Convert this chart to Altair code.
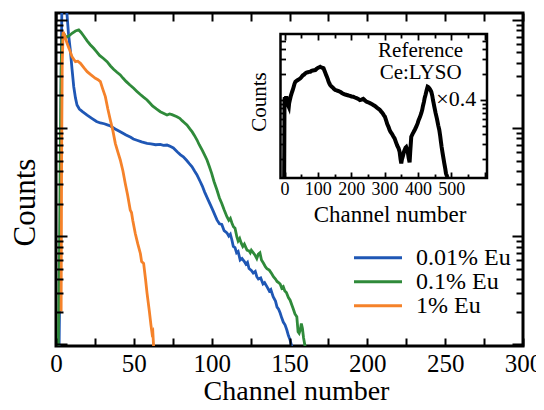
import altair as alt
import pandas as pd

FONT = "Liberation Serif"

# ---------------- data ----------------
series_names = ["0.01% Eu", "0.1% Eu", "1% Eu"]
series_colors = ["#1f57b5", "#2f8a3a", "#f5822a"]

blue_ch = [2.0, 2.6, 3.0, 3.4, 3.8, 4.5, 5.5, 6.3, 7.0, 8.0, 9.2, 10.3, 11.4, 12.5, 13.5, 15, 17, 20, 23, 26,
           28.5, 31, 33, 35, 38, 41.3, 45, 48, 49.7, 52, 55, 58.5, 61, 64, 67, 69, 71.3, 73, 75.4, 78,
           80, 81.8, 84, 85.5, 87.4, 89, 90.5, 92.7, 94, 95.5, 97.8, 99.5, 101, 103.4, 105, 106.5, 108, 109.8, 111, 112,
           113, 113.9, 115, 116, 117, 118.3, 119.5, 121, 122, 123, 124, 125.5, 126.7, 128, 129, 130, 131.5, 133, 134, 135.5,
           137, 138, 139.5, 141, 142, 143, 144, 145, 146, 147.2, 148.3, 149.3, 150.3, 151.5]
blue_v = [9.5, 60, 600, 4000, 14000, 24000, 22000, 15000, 11600, 7500, 5270, 3500, 2410, 1900, 1633, 1500, 1420, 1318, 1230, 1150,
          1113, 1095, 1070, 1044, 980, 924, 860, 820, 791, 770, 745, 721, 712, 700, 705, 690, 696, 680, 653, 600,
          565, 542, 500, 470, 438, 400, 370, 318, 290, 255, 215, 190, 170, 141, 130, 128, 112, 107, 100, 104,
          92, 80, 78, 70, 72, 60, 62, 58, 55, 57, 50, 48, 45.4, 47, 42, 40, 41, 36, 37, 34,
          31, 32, 27.4, 25, 22, 21, 19.4, 17.5, 16, 15, 13.5, 12, 11, 9.5]

green_ch = [1.5, 2.2, 2.8, 3.3, 3.8, 4.3, 5.2, 6.2, 7.1, 8.5, 10.3, 12.5, 14.6, 16, 17.8, 20, 22, 24.2, 26, 28,
            30.5, 32.8, 35, 37, 39, 41.3, 43, 45, 47.5, 49.9, 52, 54, 56, 58.5, 60, 62, 64.5, 67, 69, 71.3,
            73, 74.5, 77.7, 79.5, 81, 82.5, 84.1, 86, 87.5, 89, 90.6, 92, 94, 95.5, 97, 98.5, 100, 101.5, 103.4, 105,
            106.5, 108, 109.8, 111, 112, 113, 114, 115, 116.2, 117, 118, 119, 120, 121, 122.7, 124, 124.8, 125.5, 126.9, 128,
            129, 130, 131, 132, 133.3, 134.5, 135.5, 137, 138.5, 139.7, 141, 142, 143, 144, 145, 146, 147, 148, 149.3, 150.4,
            151.5, 152.5, 153.5, 154.7, 155.5, 156.2, 156.9, 157.6, 158.3, 159, 160]
green_v = [9.5, 60, 700, 3500, 6500, 7300, 7400, 7000, 6950, 7150, 7530, 7900, 8080, 7700, 7100, 6400, 5900, 5470, 5100, 4700,
           4400, 4110, 3750, 3500, 3300, 3097, 2900, 2700, 2500, 2332, 2180, 2050, 1940, 1817, 1720, 1600, 1500, 1416, 1370, 1318,
           1350, 1330, 1273, 1230, 1170, 1120, 1066, 980, 920, 850, 774, 700, 620, 560, 506, 440, 380, 320, 267, 225,
           200, 175, 151, 140, 146, 132, 122, 118, 98, 90, 95, 86, 80, 84, 74, 73, 70, 74, 69.6, 66,
           62, 68, 70, 60, 56, 52, 50, 48.4, 45, 42, 40, 38, 37, 36, 33, 34, 31, 30, 27, 25.5,
           23, 21, 19, 17.9, 13, 12.6, 13.5, 15.5, 14, 11.5, 9.5]

orange_ch = [3.3, 3.6, 4.0, 4.6, 5.5, 7.1, 8.5, 10.3, 11.5, 12.5, 14, 15.7, 18, 20, 22.5, 25.3, 27, 28.5, 30, 31.7,
             33.3, 34.9, 36.5, 38.1, 39.7, 41.3, 43, 44.5, 46, 47.7, 48.5, 49.3, 50.9, 52.5, 54.2, 55, 56.3, 57.5, 58.5, 60,
             61, 61.7, 62.2, 62.7]
orange_v = [20, 500, 4000, 7790, 7200, 6090, 5400, 4573, 4300, 4110, 4150, 3970, 3600, 3320, 3100, 2884, 2800, 2685, 2300, 1950,
            1500, 1186, 950, 721, 600, 506, 400, 307, 240, 174, 165, 140, 106, 85, 69, 58, 55.9, 40, 29.5, 20,
            15, 12.6, 13, 9.5]

inset_ch = [-1, 0, 1, 3, 5, 8, 10, 12.8, 14, 16, 19, 22.9, 25, 28, 30, 32.7, 36, 40, 44, 47.6,
            51, 55, 58, 62.5, 66, 70, 74, 77.4, 81, 85, 89, 92.3, 96, 100, 104, 107, 110, 112, 115, 117,
            119, 122, 125, 127, 130, 132, 135, 137, 141, 145, 148, 152, 156, 160, 164, 167, 172, 177, 182, 187,
            192, 196, 201, 206, 211, 216, 221, 226, 231, 236, 241, 246, 251, 256, 261, 266, 271, 276, 281, 286,
            290, 294, 298, 301, 305, 308, 312, 315, 318, 322, 326, 330, 334, 338, 342, 345, 348, 350, 352, 355,
            358, 360, 363, 365, 368, 370, 372, 375, 377, 380, 384, 387, 391, 395, 399, 402, 406, 410, 413, 415,
            418, 420, 423, 425, 427, 429, 431, 434, 437, 440, 443, 445, 447, 449, 453, 457, 461, 464, 467, 469,
            471, 474, 477, 479, 482, 484, 486, 489]
inset_v = [12.2, 100, 108, 102, 110, 95, 88, 83, 92, 100, 112, 125, 132, 145, 155, 164, 168, 172, 176, 180,
           186, 195, 198, 206, 210, 212, 214, 215, 220, 222, 224, 225, 232, 238, 242, 246, 242, 240, 238, 236,
           225, 210, 196, 188, 175, 165, 155, 150, 144, 140, 135, 131, 130, 128, 126, 125, 121, 118, 116, 114.5,
           113, 112, 110, 109.4, 107, 105, 103, 100, 101, 103, 99, 95.5, 94, 92, 90, 87.3, 85, 82, 79, 76.3,
           73, 70, 66, 63.6, 57, 52, 48, 44.4, 42, 40, 37.5, 35.4, 32, 29, 27, 24.6, 20, 18, 20, 22,
           24.5, 25.8, 27.5, 28, 26, 23.8, 21, 18.5, 25, 37, 40, 42, 45, 48.5, 53, 58, 63, 69.8, 77, 85,
           95, 105, 116, 125, 135, 143.4, 142, 138, 132, 125, 112, 100, 92, 83.4, 70, 60, 50, 44.4, 37, 32,
           28, 23.6, 20, 18, 15.5, 13.7, 13, 12.3]

x_tick_vals = list(range(0, 301, 25))
x_label_vals = [0, 50, 100, 150, 200, 250, 300]
y_major_vals = [10, 100, 1000, 10000]
y_minor_vals = [m * d for d in (10, 100, 1000) for m in range(2, 10)]

inset_x_major = [0, 100, 200, 300, 400, 500, 600]
inset_x_minor = [50, 150, 250, 350, 450, 550]
inset_x_labels = [0, 100, 200, 300, 400, 500]
inset_y_major = [100]
inset_y_minor = [20, 30, 40, 50, 60, 70, 80, 90, 200, 300, 400, 500]
inset_text = ["Reference", "Ce:LYSO", "×0.4"]
inset_text_ch = [408, 408, 455]
inset_text_v = [380, 206, 104]

# ---------------- layout ----------------
W, H = 467, 333
IX0, IX1, IY0, IY1 = 224.5, 431, 21, 165      # inset box inside the plot area
inset_dom_x = [-12, 607]
inset_dom_y = [12.1, 597]

xs = alt.Scale(domain=[0, 300], nice=False, zero=False)
ys = alt.Scale(type="log", domain=[9.6, 11600], nice=False)
ixs = alt.Scale(domain=inset_dom_x, range=[IX0, IX1], nice=False, zero=False)
iys = alt.Scale(type="log", domain=inset_dom_y, range=[IY1, IY0], nice=False)


def tick_axis(orient, offset, values, size, width=2.0):
    # an axis that only draws tick marks; a negative offset moves it to the opposite edge,
    # so its outward ticks point into the plot
    return alt.Axis(orient=orient, offset=offset, values=values, labels=False, domain=False,
                    grid=False, ticks=True, tickSize=size, tickWidth=width, tickColor="#000000",
                    tickOpacity=1, title=None, zindex=5)


# ---------------- main curves ----------------
rows = []
for name, chs, vs in zip(series_names, [blue_ch, green_ch, orange_ch], [blue_v, green_v, orange_v]):
    for c, v in zip(chs, vs):
        rows.append({"series": name, "ch": c, "v": v})
main_df = pd.DataFrame(rows)

lines = alt.Chart(main_df).mark_line(strokeWidth=2.8, clip=True).encode(
    x=alt.X("ch:Q", scale=xs,
            axis=alt.Axis(orient="bottom", values=x_label_vals, ticks=False, domain=False, grid=False,
                          title="Channel number", labelFontSize=25, titleFontSize=28,
                          labelFont=FONT, titleFont=FONT, labelColor="black", titleColor="black",
                          titleFontWeight="normal", labelPadding=5, labelFlush=False,
                          titleX=240, titleY=31)),
    y=alt.Y("v:Q", scale=ys,
            axis=alt.Axis(orient="left", labels=False, ticks=False, domain=False, grid=False,
                          title="Counts", titleFontSize=31, titleFont=FONT, titleColor="black",
                          titleFontWeight="normal", titlePadding=15, titleY=189)),
    color=alt.Color("series:N", scale=alt.Scale(domain=series_names, range=series_colors),
                    legend=alt.Legend(title=None, orient="none", legendX=310, legendY=232.8,
                                      symbolType="M-4.8,0H4.8", symbolSize=100, symbolStrokeWidth=3,
                                      labelFont=FONT, labelFontSize=24, labelColor="black",
                                      rowPadding=0, labelOffset=26, padding=0)),
)

carrier_df = pd.DataFrame({"ch": [0], "v": [100]})
# inward ticks: bottom edge (x) and left edge (decades)
main_ticks_a = alt.Chart(carrier_df).mark_point(opacity=0).encode(
    x=alt.X("ch:Q", scale=xs, axis=tick_axis("top", -H, x_tick_vals, 8)),
    y=alt.Y("v:Q", scale=ys, axis=tick_axis("right", -W, y_major_vals, 11)),
)
# inward ticks: top edge (x) and right edge (decades)
main_ticks_b = alt.Chart(carrier_df).mark_point(opacity=0).encode(
    x=alt.X("ch:Q", scale=xs, axis=tick_axis("bottom", -H, x_tick_vals, 8)),
    y=alt.Y("v:Q", scale=ys, axis=tick_axis("left", -W, y_major_vals, 11)),
)
# minor log ticks, left and right edges
main_ticks_c = alt.Chart(carrier_df).mark_point(opacity=0).encode(
    y=alt.Y("v:Q", scale=ys, axis=tick_axis("right", -W, y_minor_vals, 7)),
)
main_ticks_d = alt.Chart(carrier_df).mark_point(opacity=0).encode(
    y=alt.Y("v:Q", scale=ys, axis=tick_axis("left", -W, y_minor_vals, 7)),
)

# ---------------- inset ----------------
frame_df = pd.DataFrame({"x0": [inset_dom_x[0]], "x1": [inset_dom_x[1]],
                         "y0": [inset_dom_y[0]], "y1": [inset_dom_y[1]]})
frame = alt.Chart(frame_df).mark_rect(fill="white", stroke="black", strokeWidth=2.5).encode(
    x=alt.X("x0:Q", scale=ixs,
            axis=alt.Axis(orient="bottom", offset=-(H - IY1), values=inset_x_labels,
                          ticks=False, domain=False, grid=False, title="Channel number",
                          labelFontSize=18, titleFontSize=23, labelFont=FONT, titleFont=FONT,
                          labelColor="black", titleColor="black", titleFontWeight="normal",
                          labelPadding=2, titlePadding=5, labelFlush=False, titleX=333.5)),
    x2="x1:Q",
    y=alt.Y("y0:Q", scale=iys,
            axis=alt.Axis(orient="left", offset=-IX0, labels=False, ticks=False, domain=False,
                          grid=False, title="Counts", titleFontSize=21, titleFont=FONT,
                          titleColor="black", titleFontWeight="normal", titlePadding=11,
                          titleY=88.5)),
    y2="y1:Q",
)

inset_df = pd.DataFrame({"ch": inset_ch, "v": inset_v})
inset_line = alt.Chart(inset_df).mark_line(color="black", strokeWidth=4, clip=True).encode(
    x=alt.X("ch:Q", scale=ixs, axis=None), y=alt.Y("v:Q", scale=iys, axis=None))

icarrier_df = pd.DataFrame({"ch": [100], "v": [100]})
inset_ticks_a = alt.Chart(icarrier_df).mark_point(opacity=0).encode(
    x=alt.X("ch:Q", scale=ixs, axis=tick_axis("top", -IY1, inset_x_major, 6, 1.8)),
    y=alt.Y("v:Q", scale=iys, axis=tick_axis("right", -(W - IX0), inset_y_major, 7, 1.8)),
)
inset_ticks_b = alt.Chart(icarrier_df).mark_point(opacity=0).encode(
    x=alt.X("ch:Q", scale=ixs, axis=tick_axis("bottom", -(H - IY0), inset_x_major, 6, 1.8)),
    y=alt.Y("v:Q", scale=iys, axis=tick_axis("left", -IX1, inset_y_major, 7, 1.8)),
)
inset_ticks_c = alt.Chart(icarrier_df).mark_point(opacity=0).encode(
    x=alt.X("ch:Q", scale=ixs, axis=tick_axis("top", -IY1, inset_x_minor, 4, 1.8)),
    y=alt.Y("v:Q", scale=iys, axis=tick_axis("right", -(W - IX0), inset_y_minor, 5, 1.8)),
)
inset_ticks_d = alt.Chart(icarrier_df).mark_point(opacity=0).encode(
    x=alt.X("ch:Q", scale=ixs, axis=tick_axis("bottom", -(H - IY0), inset_x_minor, 4, 1.8)),
    y=alt.Y("v:Q", scale=iys, axis=tick_axis("left", -IX1, inset_y_minor, 5, 1.8)),
)

text_df = pd.DataFrame({"t": inset_text, "ch": inset_text_ch, "v": inset_text_v})
texts_c = alt.Chart(text_df.iloc[:2]).mark_text(
    font=FONT, fontSize=21, color="black", align="center", baseline="middle").encode(
    x=alt.X("ch:Q", scale=ixs, axis=None), y=alt.Y("v:Q", scale=iys, axis=None), text="t:N")
texts_l = alt.Chart(text_df.iloc[2:]).mark_text(
    font=FONT, fontSize=22, color="black", align="left", baseline="middle").encode(
    x=alt.X("ch:Q", scale=ixs, axis=None), y=alt.Y("v:Q", scale=iys, axis=None), text="t:N")

chart = alt.layer(
    lines, main_ticks_a, main_ticks_b, main_ticks_c, main_ticks_d,
    frame, inset_line, inset_ticks_a, inset_ticks_b, inset_ticks_c, inset_ticks_d,
    texts_c, texts_l
).resolve_scale(
    x="independent", y="independent"
).properties(
    width=W, height=H,
    autosize=alt.AutoSizeParams(type="none"),
    padding={"left": 48, "top": 5, "right": 13, "bottom": 56},
).configure_view(
    stroke="black", strokeWidth=3
).configure_axis(grid=False)

chart.save("out.html", embed_options={"renderer": "svg", "actions": False})
